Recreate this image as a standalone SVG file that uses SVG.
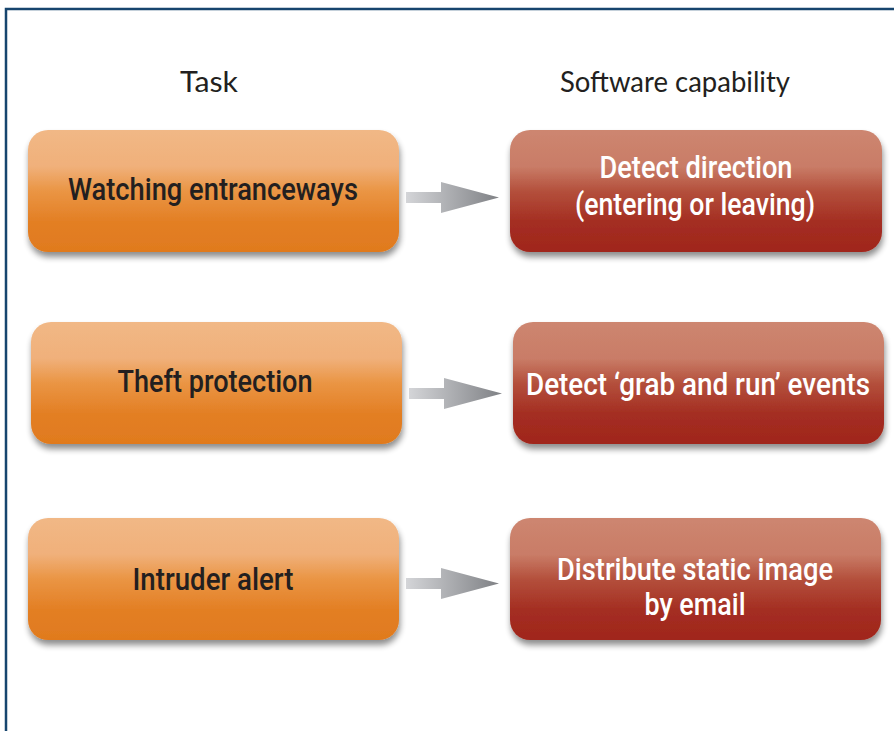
<svg xmlns="http://www.w3.org/2000/svg" width="894" height="731" viewBox="0 0 894 731">
  <defs>
    <linearGradient id="gOrange" x1="0" y1="0" x2="0" y2="1">
      <stop offset="0" stop-color="#F1B886"/>
      <stop offset="0.3" stop-color="#F0B07A"/>
      <stop offset="0.5" stop-color="#EA9544"/>
      <stop offset="0.75" stop-color="#E37F24"/>
      <stop offset="1" stop-color="#E07A1E"/>
    </linearGradient>
    <linearGradient id="gRed" x1="0" y1="0" x2="0" y2="1">
      <stop offset="0" stop-color="#CD8670"/>
      <stop offset="0.3" stop-color="#C97C67"/>
      <stop offset="0.5" stop-color="#B4503C"/>
      <stop offset="0.75" stop-color="#A42E22"/>
      <stop offset="1" stop-color="#A0261C"/>
    </linearGradient>
    <linearGradient id="gArrow" x1="0" y1="0" x2="1" y2="0">
      <stop offset="0" stop-color="#D4D5D8"/>
      <stop offset="1" stop-color="#7F8185"/>
    </linearGradient>
    <filter id="shadow" x="-10%" y="-10%" width="120%" height="130%">
      <feGaussianBlur in="SourceAlpha" stdDeviation="3"/>
      <feOffset dx="1" dy="5" result="b"/>
      <feComponentTransfer><feFuncA type="linear" slope="0.45"/></feComponentTransfer>
      <feMerge><feMergeNode/><feMergeNode in="SourceGraphic"/></feMerge>
    </filter>
    <path id="arrowShape" d="M0,-5.5 H35 V-15.5 L93,0 L35,15.5 V5.5 H0 Z"/>
  </defs>
  <style>
    .head { font-family: Lato, "Open Sans", sans-serif; font-size: 28px; fill: #231F20; text-anchor: middle; }
    .task { fill: url(#gOrange); filter: url(#shadow); }
    .cap { fill: url(#gRed); filter: url(#shadow); }
    .tl { font-family: Roboto, "Liberation Sans", sans-serif; font-weight: 500; font-size: 31px; fill: #231F20; text-anchor: middle; }
    .cl { font-family: Roboto, "Liberation Sans", sans-serif; font-weight: 500; font-size: 31px; fill: #FFFFFF; text-anchor: middle; }
  </style>
  <rect width="894" height="731" fill="#FFFFFF"/>
  <!-- frame: top and left edges only -->
  <path d="M6,740 V9 H900" fill="none" stroke="#17456E" stroke-width="2.5"/>

  <text class="head" x="209" y="92" textLength="58" lengthAdjust="spacingAndGlyphs">Task</text>
  <text class="head" x="675" y="92" textLength="230" lengthAdjust="spacingAndGlyphs">Software capability</text>

  <g id="task-entranceways">
    <rect class="task" x="28" y="130" width="371" height="122" rx="20"/>
    <text class="tl" x="213" y="200" textLength="290" lengthAdjust="spacingAndGlyphs">Watching entranceways</text>
  </g>
  <g id="task-theft">
    <rect class="task" x="31" y="322" width="371" height="122" rx="20"/>
    <text class="tl" x="215" y="392" textLength="195" lengthAdjust="spacingAndGlyphs">Theft protection</text>
  </g>
  <g id="task-intruder">
    <rect class="task" x="28" y="518" width="371" height="122" rx="20"/>
    <text class="tl" x="213" y="590" textLength="161" lengthAdjust="spacingAndGlyphs">Intruder alert</text>
  </g>

  <g id="cap-direction">
    <rect class="cap" x="510" y="130" width="372" height="122" rx="20"/>
    <text class="cl" x="696" y="178" textLength="193" lengthAdjust="spacingAndGlyphs">Detect direction</text>
    <text class="cl" x="695" y="215" textLength="240" lengthAdjust="spacingAndGlyphs">(entering or leaving)</text>
  </g>
  <g id="cap-grab">
    <rect class="cap" x="513" y="322" width="371" height="122" rx="20"/>
    <text class="cl" x="698" y="395" textLength="344" lengthAdjust="spacingAndGlyphs">Detect ‘grab and run’ events</text>
  </g>
  <g id="cap-email">
    <rect class="cap" x="510" y="518" width="371" height="122" rx="20"/>
    <text class="cl" x="695" y="580" textLength="276" lengthAdjust="spacingAndGlyphs">Distribute static image</text>
    <text class="cl" x="695" y="615" textLength="101" lengthAdjust="spacingAndGlyphs">by email</text>
  </g>

  <g id="connectors">
    <use href="#arrowShape" x="406" y="197.5" fill="url(#gArrow)"/>
    <use href="#arrowShape" x="409" y="393.5" fill="url(#gArrow)"/>
    <use href="#arrowShape" x="406" y="583.5" fill="url(#gArrow)"/>
  </g>
</svg>
